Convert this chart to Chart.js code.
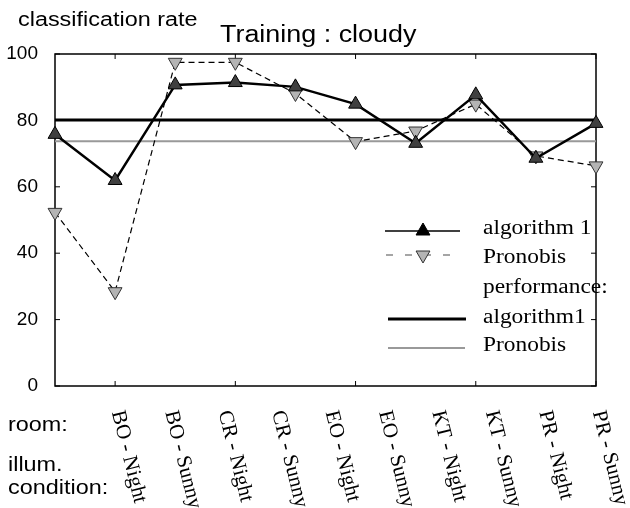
<!DOCTYPE html>
<html>
<head>
<meta charset="utf-8">
<script src="https://cdn.jsdelivr.net/npm/chart.js@4.4.1/dist/chart.umd.min.js"></script>
<style>
    html, body { margin: 0; padding: 0; background: #fff; }
    #wrap { width: 630px; height: 508px; }
</style>
</head>
<body>
<div id="wrap"><canvas id="rate-chart" width="630" height="508"></canvas></div>
<script>
const rooms = ['BO - Night', 'BO - Sunny', 'CR - Night', 'CR - Sunny', 'EO - Night', 'EO - Sunny', 'KT - Night', 'KT - Sunny', 'PR - Night', 'PR - Sunny'];
const algorithm1 = [75.8, 61.9, 90.7, 91.4, 90.1, 84.9, 73.1, 87.7, 68.6, 79.1];
const pronobis = [52.3, 28.4, 97.5, 97.5, 88.1, 73.6, 76.8, 84.9, 69.3, 66.3];
const algorithm1Perf = 80.1;
const pronobisPerf = 73.7;
const yTicks = [0, 20, 40, 60, 80, 100];
const rowLabels = ['room:', 'illum.', 'condition:'];

const SANS = "'Liberation Sans', Arial, sans-serif";
const SERIF = "'Liberation Serif', 'Times New Roman', serif";
const SX = 1.17; // the original figure is a bit stretched sideways

function wideText(ctx, text, x, y) {
    ctx.save();
    ctx.translate(x, y);
    ctx.scale(SX, 1);
    ctx.fillText(text, 0, 0);
    ctx.restore();
}

function triangle(ctx, x, y, r, down, fill, stroke) {
    const s = down ? -1 : 1;
    ctx.beginPath();
    ctx.moveTo(x, y - s * r);
    ctx.lineTo(x + r * 0.866, y + s * r * 0.5);
    ctx.lineTo(x - r * 0.866, y + s * r * 0.5);
    ctx.closePath();
    ctx.fillStyle = fill;
    ctx.fill();
    ctx.strokeStyle = stroke;
    ctx.lineWidth = 1;
    ctx.setLineDash([]);
    ctx.stroke();
}

// box round the plot with inward ticks, like the original
const framePlugin = {
    id: 'frame',
    beforeDatasetsDraw(chart) {
        const { ctx, chartArea: a, scales: { x, y } } = chart;
        ctx.save();
        ctx.strokeStyle = '#000';
        ctx.lineWidth = 1.5;
        ctx.strokeRect(a.left, a.top, a.right - a.left, a.bottom - a.top);
        ctx.lineWidth = 1;
        ctx.beginPath();
        for (let i = 1; i < rooms.length; i += 2) {
            const px = x.getPixelForValue(i);
            ctx.moveTo(px, a.bottom); ctx.lineTo(px, a.bottom - 5);
            ctx.moveTo(px, a.top); ctx.lineTo(px, a.top + 5);
        }
        yTicks.forEach(v => {
            const py = y.getPixelForValue(v);
            ctx.moveTo(a.left, py); ctx.lineTo(a.left + 5, py);
            ctx.moveTo(a.right, py); ctx.lineTo(a.right - 5, py);
        });
        ctx.stroke();
        ctx.restore();
    },
    afterDraw(chart) {
        const { ctx, chartArea: a, scales: { x } } = chart;
        ctx.save();
        ctx.fillStyle = '#000';

        // titles
        ctx.textBaseline = 'alphabetic';
        ctx.font = '20px ' + SANS;
        wideText(ctx, 'classification rate', 18, 26);
        ctx.font = '23px ' + SANS;
        wideText(ctx, 'Training : cloudy', 220, 42);

        // row names on the left of the x labels
        ctx.textBaseline = 'middle';
        ctx.font = '20px ' + SANS;
        wideText(ctx, rowLabels[0], 8, 425);
        wideText(ctx, rowLabels[1], 8, 465);
        wideText(ctx, rowLabels[2], 8, 488);

        // slanted room labels, spread from the 2nd to the last point
        ctx.font = '21px ' + SERIF;
        ctx.textAlign = 'left';
        const n = rooms.length;
        rooms.forEach((name, i) => {
            const px = x.getPixelForValue(1 + i * (n - 2) / (n - 1)) + 2;
            ctx.save();
            ctx.translate(px, a.bottom + 25);
            ctx.rotate(76 * Math.PI / 180);
            ctx.fillText(name, 0, 0);
            ctx.restore();
        });

        // legend
        const ds = chart.data.datasets;
        const tx = 483;
        ctx.font = '20px ' + SERIF;

        ctx.strokeStyle = '#000';
        ctx.lineWidth = 1.3;
        ctx.beginPath(); ctx.moveTo(385, 231); ctx.lineTo(460, 231); ctx.stroke();
        triangle(ctx, 423, 231, 8, false, '#000', '#000');

        ctx.strokeStyle = '#888';
        ctx.lineWidth = 1.3;
        ctx.setLineDash([7, 12]);
        ctx.beginPath(); ctx.moveTo(386, 255); ctx.lineTo(460, 255); ctx.stroke();
        triangle(ctx, 423, 255, 8, true, ds[1].pointBackgroundColor, '#333');

        ctx.setLineDash([]);
        ctx.strokeStyle = ds[2].borderColor;
        ctx.lineWidth = ds[2].borderWidth;
        ctx.beginPath(); ctx.moveTo(388, 319); ctx.lineTo(466, 319); ctx.stroke();
        ctx.strokeStyle = ds[3].borderColor;
        ctx.lineWidth = ds[3].borderWidth;
        ctx.beginPath(); ctx.moveTo(388, 348); ctx.lineTo(465, 348); ctx.stroke();

        ctx.fillStyle = '#000';
        wideText(ctx, ds[0].label, tx, 229);
        wideText(ctx, ds[1].label, tx, 258);
        wideText(ctx, 'performance:', tx, 288);
        wideText(ctx, ds[2].label, tx, 318);
        wideText(ctx, ds[3].label, tx, 346);
        ctx.restore();
    }
};

const ctx = document.getElementById('rate-chart').getContext('2d');
const rateChart = new Chart(ctx, {
    type: 'line',
    data: {
        labels: rooms,
        datasets: [{
            label: 'algorithm 1',
            data: algorithm1,
            borderColor: '#000',
            borderWidth: 2.5,
            pointStyle: 'triangle',
            pointRadius: 8,
            pointBackgroundColor: '#404040',
            pointBorderColor: '#000',
            pointBorderWidth: 1,
            order: 1
        }, {
            label: 'Pronobis',
            data: pronobis,
            borderColor: '#000',
            borderWidth: 1.2,
            borderDash: [6, 4],
            pointStyle: 'triangle',
            pointRotation: 180,
            pointRadius: 8,
            pointBackgroundColor: '#b4b4b4',
            pointBorderColor: '#333',
            pointBorderWidth: 1,
            order: 2
        }, {
            label: 'algorithm1',
            data: rooms.map(() => algorithm1Perf),
            borderColor: '#000',
            borderWidth: 3,
            pointRadius: 0,
            order: 3
        }, {
            label: 'Pronobis',
            data: rooms.map(() => pronobisPerf),
            borderColor: '#999',
            borderWidth: 2,
            pointRadius: 0,
            order: 4
        }]
    },
    options: {
        responsive: false,
        animation: false,
        events: [],
        layout: { padding: { top: 54, right: 34, left: 0, bottom: 0 } },
        plugins: {
            legend: { display: false },
            tooltip: { enabled: false }
        },
        scales: {
            x: {
                grid: { display: false },
                border: { display: false },
                ticks: { display: false },
                afterFit(scale) { scale.height = 122; }
            },
            y: {
                min: 0,
                max: 100,
                afterBuildTicks(scale) { scale.ticks = yTicks.map(v => ({ value: v })); },
                ticks: { color: '#000', padding: 9, font: { family: SANS, size: 19 } },
                grid: { display: false },
                border: { display: false },
                afterFit(scale) { scale.width = 55; }
            }
        }
    },
    plugins: [framePlugin]
});
</script>
</body>
</html>
